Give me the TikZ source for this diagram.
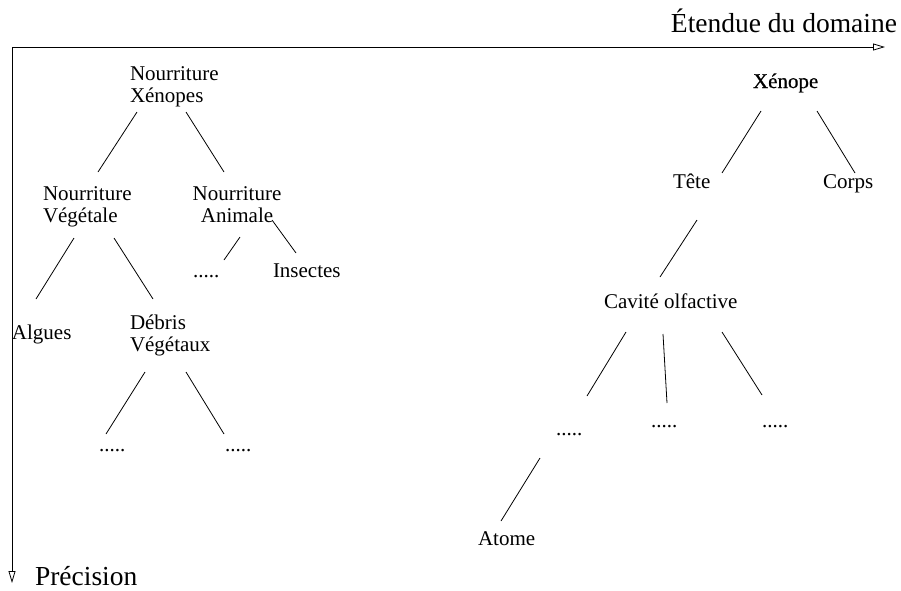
\documentclass[tikz,border=0pt]{standalone}
\usepackage{fontspec}
\setmainfont{Liberation Serif}
\usetikzlibrary{arrows.meta,calc}
\begin{document}
\begin{tikzpicture}[x=1pt,y=-1pt,
  lbl/.style={inner sep=0pt,outer sep=0pt,anchor=base west,align=left,font=\fontsize{21}{22}\selectfont},
  axlbl/.style={inner sep=0pt,outer sep=0pt,font=\fontsize{27.5}{30}\selectfont},
  conn/.style={line width=0.8pt},
  axis/.style={line width=0.8pt,-{Triangle[open,length=12pt,width=7pt]}}]
\useasboundingbox (0,0) rectangle (901,590);
% axes
\coordinate (o) at (12,47);
\coordinate (xe) at (885,47);
\coordinate (ye) at (12,583);
\draw[axis] (o) -- (xe);
\draw[axis] (o) -- (ye);
\node[axlbl,anchor=base east] (etendue) at (897,32) {Étendue du domaine};
\node[axlbl,anchor=base west] (precision) at (35,585) {Précision};
% left tree (multi-line nodes: base = last line)
\node[lbl] (nx) at (130,102) {Nourriture\\Xénopes};
\node[lbl] (nv) at (43,222) {Nourriture\\Végétale};
\node[lbl,anchor=base,align=center] (na) at (237,222) {Nourriture\\Animale};
\node[lbl] (da) at (193,277) {.....};
\node[lbl] (ins) at (273,277) {Insectes};
\node[lbl] (alg) at (12,339) {Algues};
\node[lbl] (deb) at (130,351) {Débris\\Végétaux};
\node[lbl] (d1) at (99,451) {.....};
\node[lbl] (d2) at (225,451) {.....};
\draw[conn] ($(nx.base west)+(7,10)$) -- ($(nv.base west)+(55,-50)$);
\draw[conn] ($(nx.base west)+(56,10)$) -- ($(na.base)+(-13,-50)$);
\draw[conn] ($(nv.base west)+(31,16)$) -- ($(alg.base west)+(24,-40)$);
\draw[conn] ($(nv.base west)+(71,16)$) -- ($(deb.base west)+(23,-52)$);
\draw[conn] ($(na.base)+(3,15)$) -- ($(da.base west)+(31,-17)$);
\draw[conn] ($(na.base)+(35,-2)$) -- ($(ins.base west)+(23,-24)$);
\draw[conn] ($(deb.base west)+(15,21)$) -- ($(d1.base west)+(7,-17)$);
\draw[conn] ($(deb.base west)+(56,21)$) -- ($(d2.base west)+(-1,-17)$);
% right tree
\node[lbl] (xen) at (753,88) {\addfontfeature{FakeBold=0.6}Xénope};
\node[lbl] (tete) at (673,188) {Tête};
\node[lbl] (corps) at (823,188) {Corps};
\node[lbl] (cav) at (604,308) {Cavité olfactive};
\node[lbl] (c1) at (556,435) {.....};
\node[lbl] (c2) at (651,427) {.....};
\node[lbl] (c3) at (762,427) {.....};
\node[lbl] (atome) at (478,545) {Atome};
\draw[conn] ($(xen.base west)+(8,23)$) -- ($(tete.base west)+(49,-15)$);
\draw[conn] ($(xen.base west)+(64,23)$) -- ($(corps.base west)+(32,-15)$);
\draw[conn] ($(tete.base west)+(24,32)$) -- ($(cav.base west)+(56,-31)$);
\draw[conn] ($(cav.base west)+(22,24)$) -- ($(c1.base west)+(31,-39)$);
\draw[conn] ($(cav.base west)+(59,26)$) -- ($(c2.base west)+(16,-24)$);
\draw[conn] ($(cav.base west)+(118,24)$) -- ($(c3.base west)+(0,-32)$);
\draw[conn] ($(c1.base west)+(-16,23)$) -- ($(atome.base west)+(23,-24)$);
\end{tikzpicture}
\end{document}
